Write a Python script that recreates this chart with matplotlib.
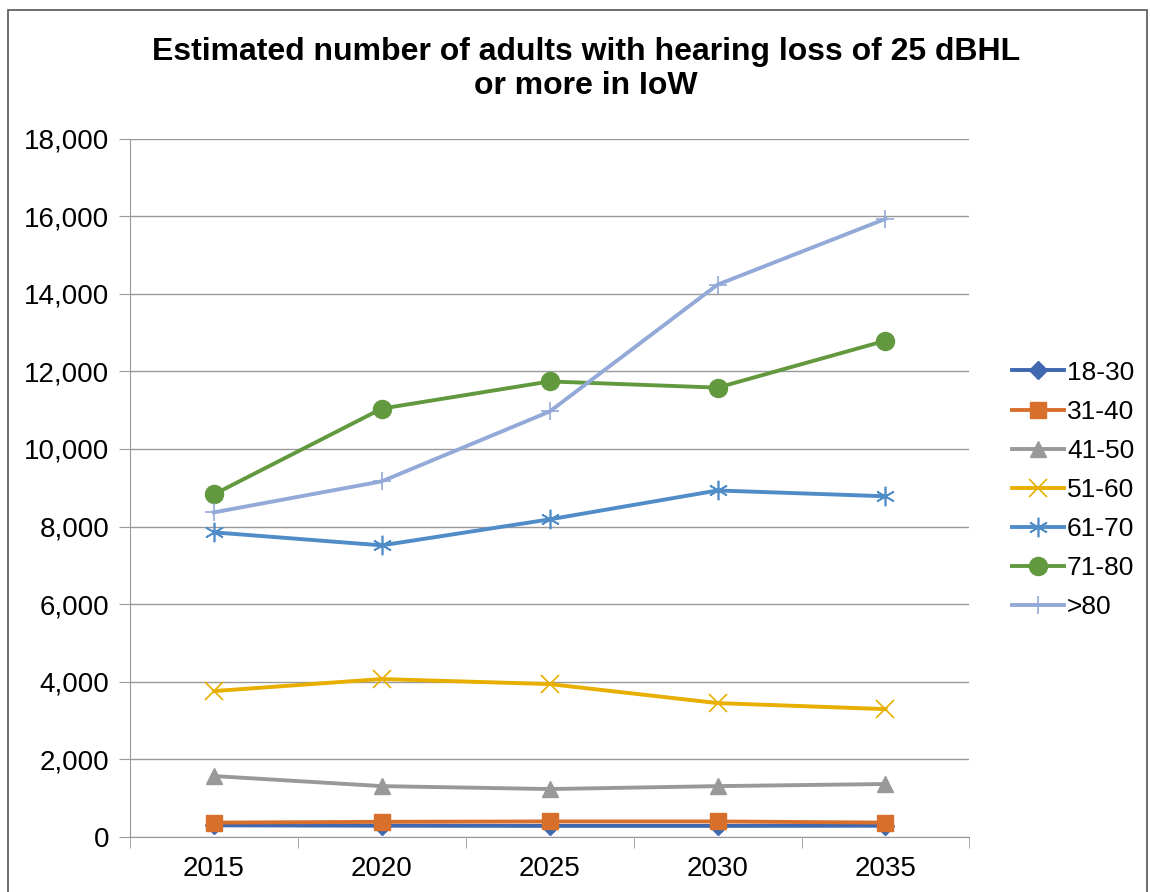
import matplotlib.pyplot as plt
from matplotlib.patches import Rectangle

plt.rcParams['font.family'] = ['Liberation Sans', 'DejaVu Sans']

# Datos
years = ["2015", "2020", "2025", "2030", "2035"]
labels = ["18-30", "31-40", "41-50", "51-60", "61-70", "71-80", ">80"]
v_18_30 = [300, 290, 285, 285, 290]
v_31_40 = [370, 390, 400, 400, 370]
v_41_50 = [1570, 1310, 1235, 1310, 1365]
v_51_60 = [3760, 4070, 3940, 3450, 3295]
v_61_70 = [7850, 7515, 8185, 8930, 8780]
v_71_80 = [8830, 11040, 11740, 11580, 12790]
v_80 = [8365, 9165, 10965, 14235, 15930]

series = [v_18_30, v_31_40, v_41_50, v_51_60, v_61_70, v_71_80, v_80]
colors = ["#3F68B0", "#D86F2B", "#999999", "#E8AE00", "#4F8CC8", "#62993E", "#93A9D8"]
markers = ["D", "s", "^", "x", (6, 2, 0), "o", "+"]
msizes = [9, 12, 12, 13, 14, 13, 13]

fig = plt.figure(figsize=(11.5, 8.92), dpi=100)
ax = fig.add_axes([0.113, 0.0617, 0.73, 0.783])

x = list(range(len(years)))
for vals, lab, c, m, ms in zip(series, labels, colors, markers, msizes):
    ax.plot(x, vals, color=c, marker=m, markersize=ms, linewidth=2.8,
            markeredgewidth=1.2 if m in ("x", "+", (6, 2, 0)) else 1,
            label=lab)

ax.set_xlim(-0.5, 4.5)
ax.set_ylim(0, 18000)
ax.set_yticks(range(0, 18001, 2000))
ax.set_yticklabels([f"{v:,}" for v in range(0, 18001, 2000)])
ax.set_xticks(x)
ax.set_xticklabels(years)
ax.set_xticks([i - 0.5 for i in range(6)], minor=True)
ax.tick_params(axis='x', which='major', length=0, pad=14, labelsize=20)
ax.tick_params(axis='x', which='minor', length=8, color="#999999", direction='out')
ax.tick_params(axis='y', length=8, color="#999999", labelsize=20, pad=7)
ax.grid(axis='y', color="#999999", linewidth=1)
ax.set_axisbelow(True)
for s in ["top", "right"]:
    ax.spines[s].set_visible(False)
for s in ["left", "bottom"]:
    ax.spines[s].set_color("#999999")

fig.text(586 / 1150, 1 - 69 / 892,
         "Estimated number of adults with hearing loss of 25 dBHL\nor more in IoW",
         fontsize=23, fontweight='bold', ha='center', va='center', linespacing=1.15)

ax.legend(loc='center left', bbox_to_anchor=(1.022, 0.497), frameon=False,
          fontsize=19, handlelength=2.0, labelspacing=0.57, handletextpad=0.1)

fig.patches.append(Rectangle((8 / 1150, -0.01), 1139 / 1150, 1 - 10 / 892 + 0.01,
                             transform=fig.transFigure, fill=False,
                             edgecolor="#555555", linewidth=1.2))

plt.savefig("out.png", dpi=100)
